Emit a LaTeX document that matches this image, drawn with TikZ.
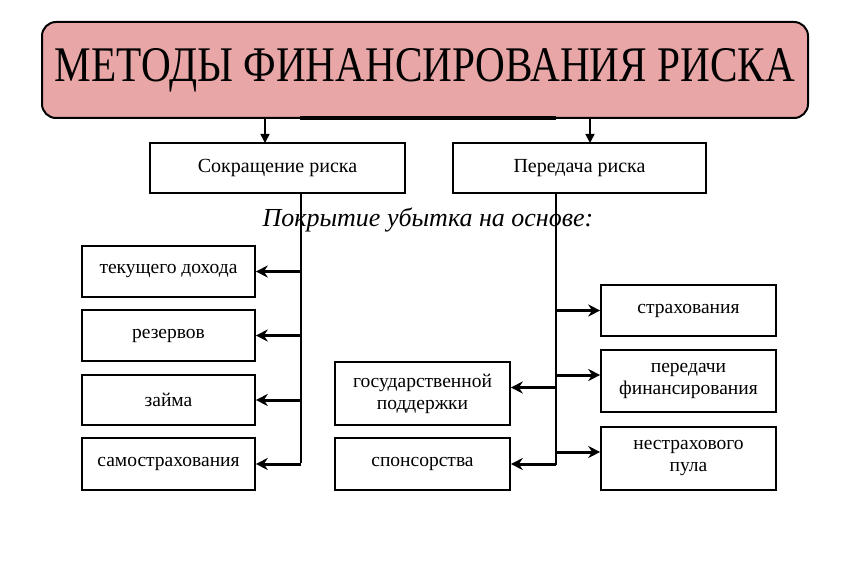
\documentclass[tikz,border=0pt]{standalone}
\usepackage{fontspec}
\setmainfont{Liberation Serif}
\usetikzlibrary{arrows.meta}
\definecolor{titlepink}{RGB}{232,166,166}
\begin{document}
\begin{tikzpicture}[x=1pt,y=-1pt,
 box/.style={draw=black, line width=1.6pt, fill=white, inner sep=0pt, align=center, font=\fontsize{19.5}{22}\selectfont},
 topbox/.style={box, font=\fontsize{20}{24}\selectfont},
 arr/.style={line width=3pt, -{Stealth[length=12pt,width=12pt]}},
 trunk/.style={line width=1.2pt},
 tarr/.style={line width=1.5pt, -{Triangle[length=9pt,width=9pt]}}]
\fill[white] (0,0) rectangle (851,567);
\useasboundingbox (0,0) rectangle (851,567);
% title
\node[draw=black, line width=2pt, rounded corners=14pt, fill=titlepink, minimum width=766pt, minimum height=96pt, inner sep=0pt] (title) at (425,70)
 {\resizebox{740pt}{33pt}{\fontsize{40}{40}\selectfont МЕТОДЫ ФИНАНСИРОВАНИЯ РИСКА}};
\coordinate (barL) at (300,118.5);
\coordinate (barR) at (556,118.5);
\draw[line width=4pt] (barL) -- (barR);
% level 2
\node[topbox, minimum width=255pt, minimum height=50pt] (sok) at (277.5,168) {Сокращение риска};
\node[topbox, minimum width=253pt, minimum height=50pt] (per) at (579.5,168) {Передача риска};
\coordinate (ta) at (265,143);
\coordinate (tb) at (590,143);
\draw[tarr] (title.south -| ta) -- (ta);
\draw[tarr] (title.south -| tb) -- (tb);
% caption
\node[font=\itshape\fontsize{26}{30}\selectfont, inner sep=0pt] (cov) at (428,220) {Покрытие убытка на основе:};
% left column
\node[box, minimum width=173pt, minimum height=51pt] (tek) at (168.5,271.5) {текущего дохода};
\node[box, minimum width=173pt, minimum height=51pt] (rez) at (168.5,335.5) {резервов};
\node[box, minimum width=173pt, minimum height=50pt] (zai) at (168.5,400) {займа};
\node[box, minimum width=173pt, minimum height=52pt] (sam) at (168.5,464) {самострахования};
% middle column
\node[box, minimum width=175pt, minimum height=63pt] (gos) at (422.5,393.5) {государственной\\поддержки};
\node[box, minimum width=175pt, minimum height=52pt] (spo) at (422.5,464) {спонсорства};
% right column
\node[box, minimum width=175pt, minimum height=51pt] (stra) at (688.5,310.5) {страхования};
\node[box, minimum width=175pt, minimum height=62pt] (pfin) at (688.5,381) {передачи\\финансирования};
\node[box, minimum width=175pt, minimum height=63pt] (nstr) at (688.5,458.5) {нестрахового\\пула};
% trunks
\coordinate (le) at (301,463);
\coordinate (re) at (556,465);
\draw[trunk] (sok.south -| le) -- (le);
\draw[trunk] (per.south -| re) -- (re);
% left arrows
\draw[arr] (le |- tek.east) -- (tek.east);
\draw[arr] (le |- rez.east) -- (rez.east);
\draw[arr] (le |- zai.east) -- (zai.east);
\draw[arr] (le |- sam.east) -- (sam.east);
% right-side arrows
\coordinate (g2) at ([yshift=6pt]gos.east);
\draw[arr] (re |- g2) -- (g2);
\draw[arr] (re |- spo.east) -- (spo.east);
\draw[arr] (re |- stra.west) -- (stra.west);
\coordinate (p2) at ([yshift=6pt]pfin.west);
\draw[arr] (re |- p2) -- (p2);
\coordinate (n2) at ([yshift=6.5pt]nstr.west);
\draw[arr] (re |- n2) -- (n2);
\end{tikzpicture}
\end{document}
